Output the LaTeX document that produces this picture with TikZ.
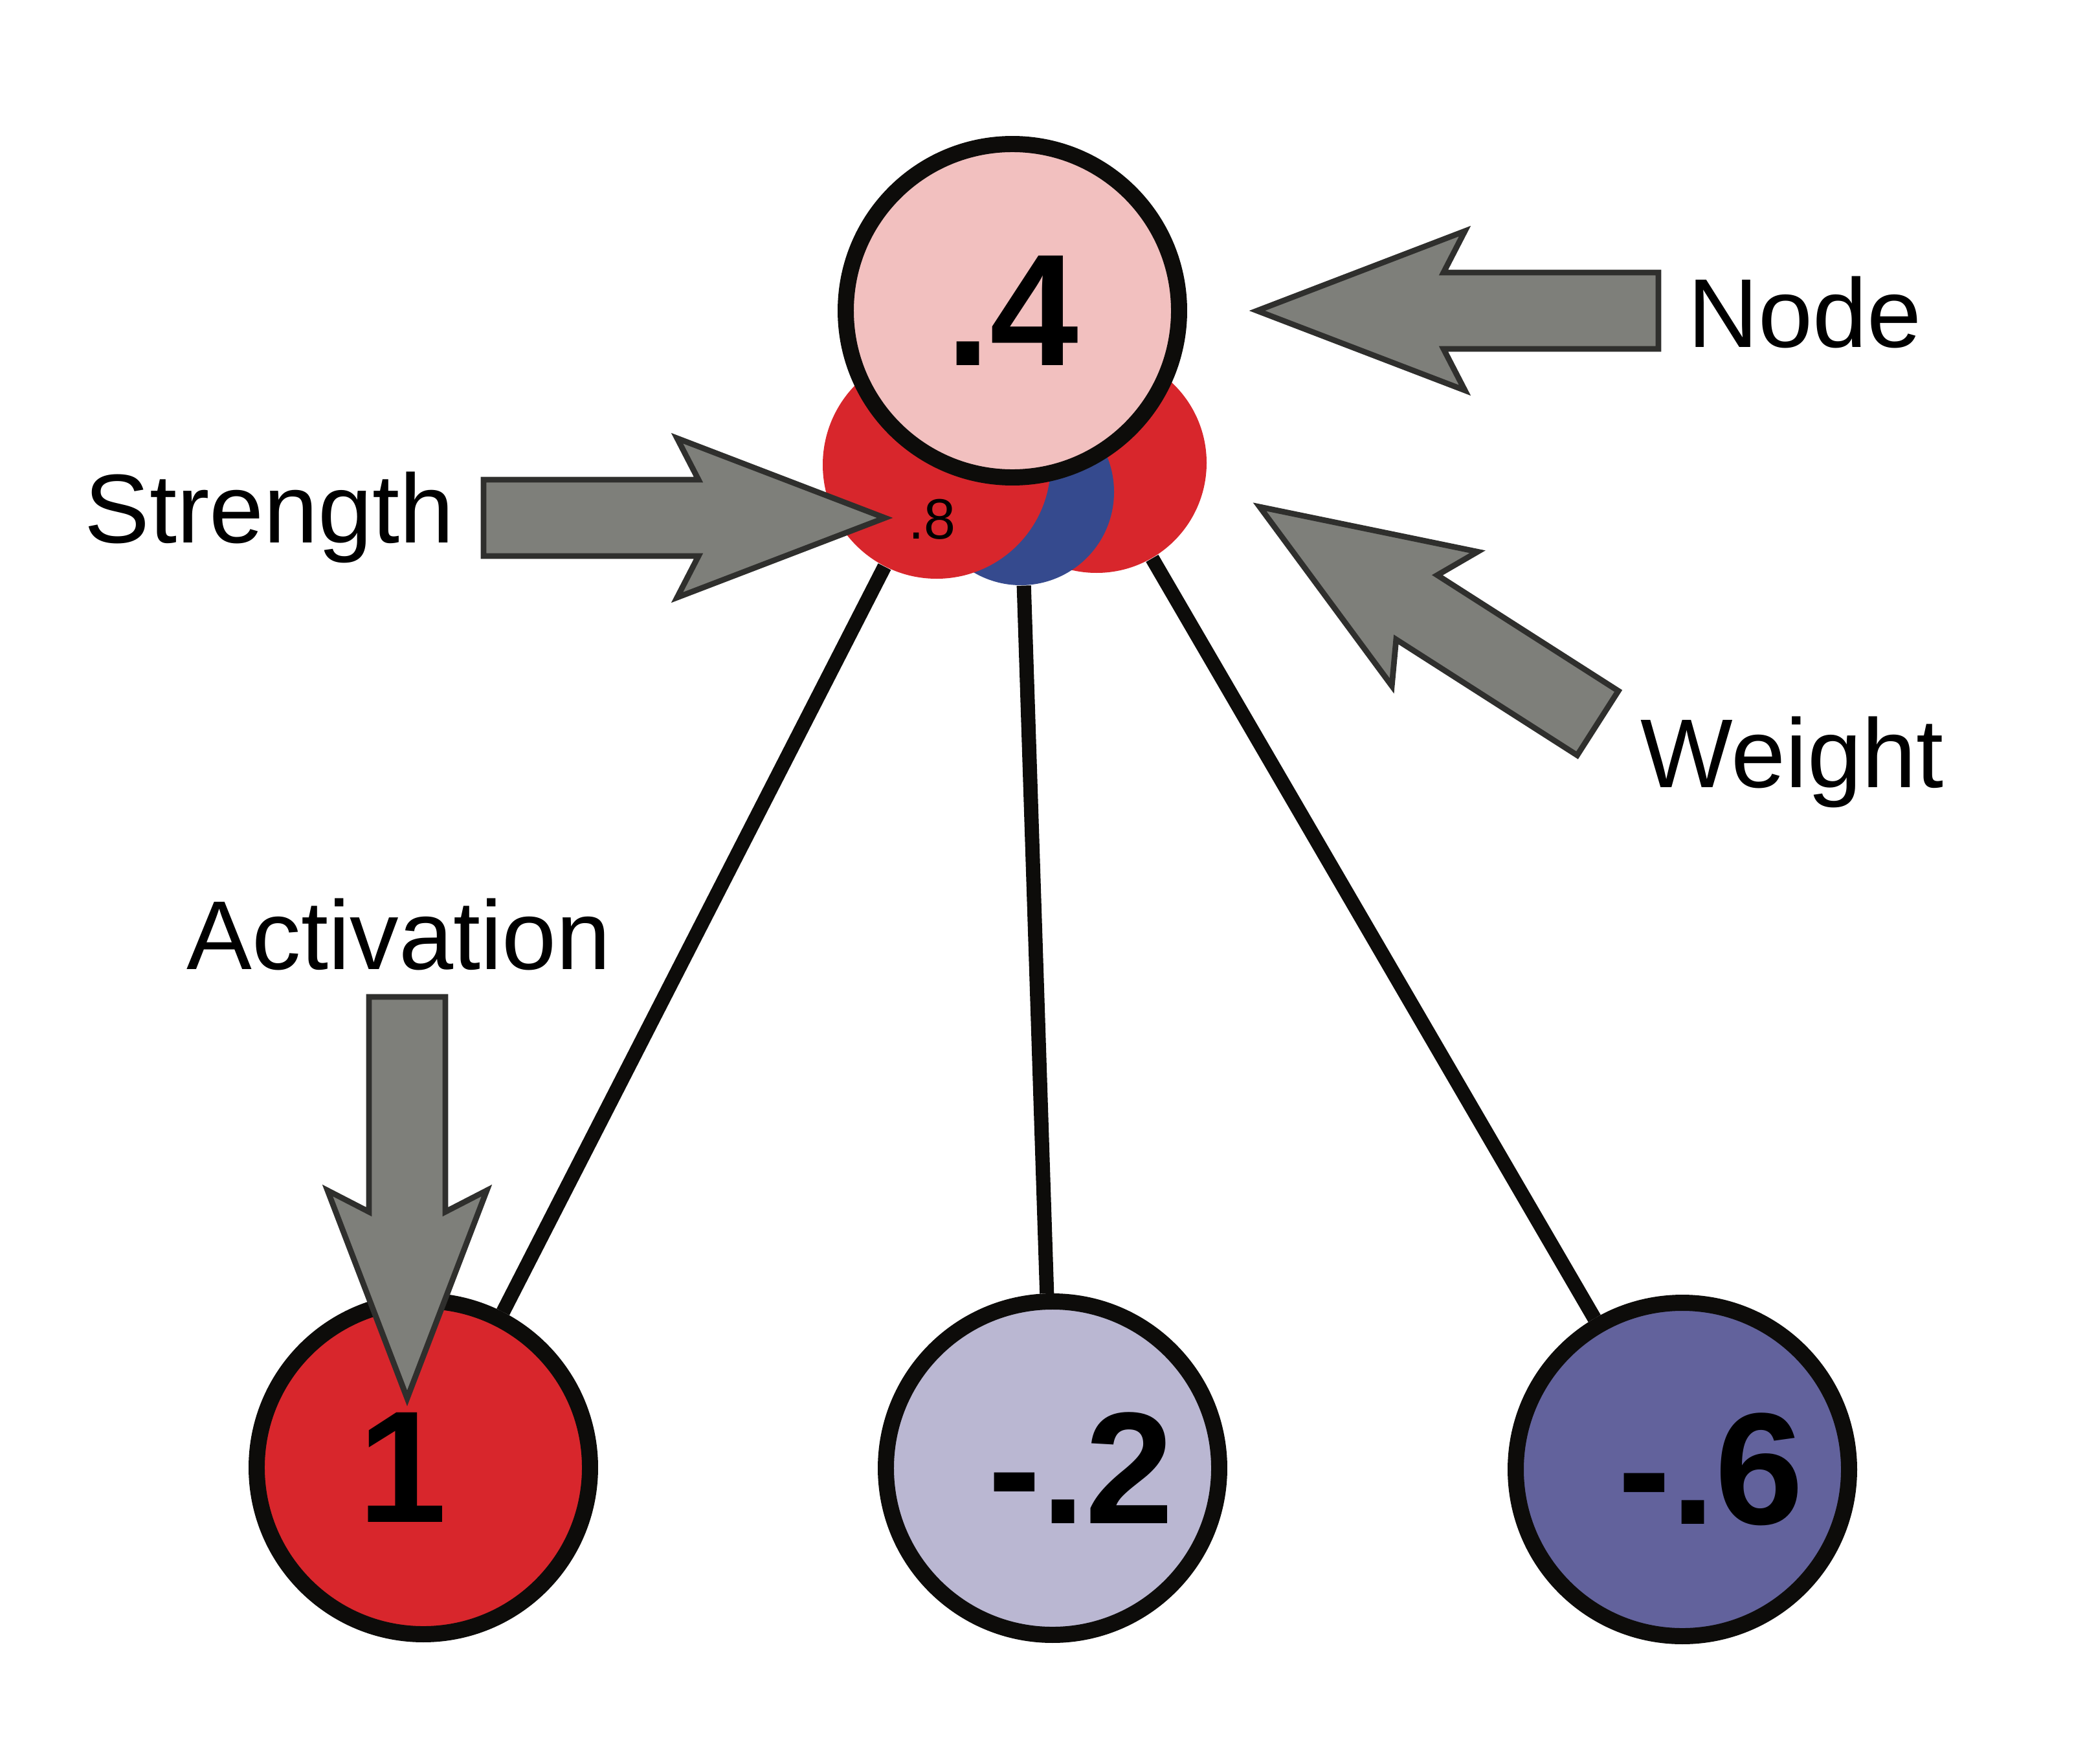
\documentclass[tikz,border=0pt]{standalone}
\usepackage{fontspec}
\setmainfont{Liberation Sans}
\usepackage{xcolor}
\usepackage{tikz}
\usetikzlibrary{positioning, backgrounds}
\definecolor{ink}{HTML}{0D0C0A}
\definecolor{nodepink}{HTML}{F2C0BF}
\definecolor{strongred}{HTML}{D8262C}
\definecolor{weightblue}{HTML}{354A8E}
\definecolor{palelilac}{HTML}{BAB7D2}
\definecolor{deeplilac}{HTML}{62629C}
\definecolor{arrowgray}{HTML}{7E7F7A}
\definecolor{arrowedge}{HTML}{2F2F2D}
\tikzset{
unit/.style = { circle, draw = ink, line width = 7.1pt, minimum size = 5.15cm, inner sep = 0pt, font = \fontsize{70}{70}\selectfont\bfseries },
weight dot/.style = { circle, draw = none, inner sep = 0pt },
caption/.style = { anchor = base west, inner sep = 0pt, font = \fontsize{43}{43}\selectfont },
link/.style = { draw = ink, line width = 6.3pt },
}
\tikzset{
pics/pointer/.style = {
        code = {
        \path[draw = arrowedge, fill = arrowgray, line width = 2.5pt, rotate = #1] (0, 0) -- (-3.21, 1.23) -- (-2.88, 0.59) -- (-6.2, 0.59) -- (-6.2, -0.59) -- (-2.88, -0.59) -- (-3.21, -1.23) -- cycle;
        }
    }
}
\begin{document}
\begin{tikzpicture}
    \useasboundingbox (0, 0) rectangle (32.21, -27.25);
    % weights under the output node
    \node[weight dot, fill = strongred, minimum size = 3.4cm] (w3) at (16.94, -7.15) {};
    \node[weight dot, fill = weightblue, minimum size = 2.88cm] (w2) at (15.77, -7.60) {};
    \node[weight dot, fill = strongred, minimum size = 3.52cm, label = {[font = \fontsize{25}{25}\selectfont, xshift = -0.07cm, yshift = -0.84cm]center:.8}] (w1) at (14.47, -7.18) {};
    \node[unit, fill = nodepink] (out) at (15.64, -4.80) {.4};
    \node[unit, fill = strongred] (act1) at (6.54, -22.67) {1\kern0.64cm};
    \node[unit, fill = palelilac] (act2) at (16.26, -22.68) {\kern0.88cm-.2};
    \node[unit, fill = deeplilac] (act3) at (25.99, -22.70) {\kern0.88cm-.6};
    \begin{scope}[on background layer]
    \path[link] (act1) -- (w1);
    \path[link] (act2) -- (w2);
    \path[link] (act3) -- (w3);
    \end{scope}
    \draw pic at (19.42, -4.80) {pointer = 180};
    \draw pic at (19.46, -7.83) {pointer = 147.4};
    \draw pic at (13.67, -8.00) {pointer = 0};
    \draw pic at (6.29, -21.60) {pointer = 270};
    \node[caption] (nodetext) at (26.07, -5.36) {Node};
    \node[caption] (weighttext) at (25.34, -12.16) {Weight};
    \node[caption] (strengthtext) at (1.30, -8.38) {Strength};
    \node[caption] (activationtext) at (2.88, -14.97) {Activation};
\end{tikzpicture}
\end{document}
